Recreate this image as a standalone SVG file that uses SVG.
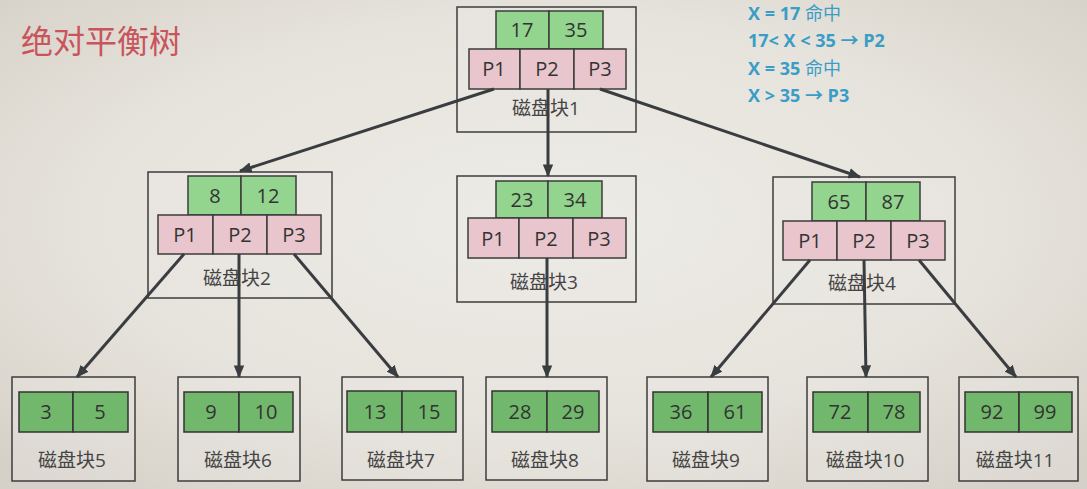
<svg xmlns="http://www.w3.org/2000/svg" width="1087" height="489" viewBox="0 0 1087 489">
<defs>
<radialGradient id="bg" cx="50%" cy="45%" r="70%">
<stop offset="0" stop-color="#eeece7"/>
<stop offset="0.6" stop-color="#e6e3dc"/>
<stop offset="1" stop-color="#d6d1c8"/>
</radialGradient>
<marker id="arr" viewBox="0 0 12 10" refX="11" refY="5" markerWidth="4.2" markerHeight="3.6" orient="auto" markerUnits="strokeWidth">
<path d="M0,0 L12,5 L0,10 Z" fill="#3a3d40"/>
</marker>
<style>
.outer{fill:#ebe9e4;fill-opacity:0.35;stroke:#3c3c3c;stroke-width:1.5}
.key{fill:#93d48e;stroke:#3c3c3c;stroke-width:1.5}
.leafkey{fill:#72b86c;stroke:#333;stroke-width:1.5}
.ptr{fill:#e9c6cd;stroke:#3c3c3c;stroke-width:1.5}
.t{font-family:"Open Sans","Liberation Sans",sans-serif;font-size:20px;fill:#333;text-anchor:middle}
.lbl{font-family:"Open Sans","Noto Sans CJK SC",sans-serif;font-size:19px;fill:#444;text-anchor:middle}
.note{font-family:"Open Sans","Noto Sans CJK SC",sans-serif;font-size:18px;font-weight:bold;fill:#3a9dc6}
.cn{font-weight:normal}
.conn line{stroke:#3a3d40;stroke-width:3;marker-end:url(#arr)}
</style>
</defs>
<rect width="1087" height="489" fill="url(#bg)"/>
<text x="21" y="53" font-family="'Noto Sans CJK SC',sans-serif" font-size="32" fill="#c9545c">绝对平衡树</text>
<g id="notes">
<text class="note" x="748" y="20">X = 17  <tspan class="cn">命中</tspan></text>
<text class="note" x="748" y="47">17&lt; X &lt; 35  → P2</text>
<text class="note" x="748" y="75">X = 35 <tspan class="cn">命中</tspan></text>
<text class="note" x="748" y="102">X &gt; 35  → P3</text>
</g>
<g id="node1">
<rect class="outer" x="457" y="7" width="179" height="125"/>
<rect class="key" x="496" y="11" width="53" height="38"/><rect class="key" x="549" y="11" width="54" height="38"/>
<rect class="ptr" x="469" y="49" width="51" height="40"/><rect class="ptr" x="520" y="49" width="54" height="40"/><rect class="ptr" x="574" y="49" width="52" height="40"/>
<text class="t" x="522" y="37">17</text><text class="t" x="576" y="37">35</text>
<text class="t" x="494" y="76">P1</text><text class="t" x="547" y="76">P2</text><text class="t" x="600" y="76">P3</text>
<text class="lbl" x="546" y="115">磁盘块1</text>
</g>
<g id="node2">
<rect class="outer" x="148" y="172" width="184" height="126"/>
<rect class="key" x="188" y="176" width="53" height="39"/><rect class="key" x="241" y="176" width="55" height="39"/>
<rect class="ptr" x="158" y="215" width="55" height="39"/><rect class="ptr" x="213" y="215" width="54" height="39"/><rect class="ptr" x="267" y="215" width="54" height="39"/>
<text class="t" x="215" y="203">8</text><text class="t" x="268" y="203">12</text>
<text class="t" x="185" y="242">P1</text><text class="t" x="240" y="242">P2</text><text class="t" x="294" y="242">P3</text>
<text class="lbl" x="237" y="285">磁盘块2</text>
</g>
<g id="node3">
<rect class="outer" x="457" y="176" width="179" height="126"/>
<rect class="key" x="496" y="181" width="52" height="37"/><rect class="key" x="548" y="181" width="54" height="37"/>
<rect class="ptr" x="468" y="218" width="51" height="40"/><rect class="ptr" x="519" y="218" width="54" height="40"/><rect class="ptr" x="573" y="218" width="53" height="40"/>
<text class="t" x="522" y="207">23</text><text class="t" x="575" y="207">34</text>
<text class="t" x="493" y="246">P1</text><text class="t" x="546" y="246">P2</text><text class="t" x="599" y="246">P3</text>
<text class="lbl" x="544" y="289">磁盘块3</text>
</g>
<g id="node4">
<rect class="outer" x="773" y="177" width="182" height="127"/>
<rect class="key" x="812" y="182" width="54" height="39"/><rect class="key" x="866" y="182" width="54" height="39"/>
<rect class="ptr" x="783" y="221" width="54" height="39"/><rect class="ptr" x="837" y="221" width="54" height="39"/><rect class="ptr" x="891" y="221" width="54" height="39"/>
<text class="t" x="839" y="209">65</text><text class="t" x="893" y="209">87</text>
<text class="t" x="810" y="248">P1</text><text class="t" x="864" y="248">P2</text><text class="t" x="918" y="248">P3</text>
<text class="lbl" x="862" y="290">磁盘块4</text>
</g>
<g id="leaf5">
<rect class="outer" x="12" y="377" width="123" height="104"/>
<rect class="leafkey" x="19" y="392" width="54" height="40"/><rect class="leafkey" x="73" y="392" width="55" height="40"/>
<text class="t" x="46" y="419">3</text><text class="t" x="100" y="419">5</text>
<text class="lbl" x="72" y="467">磁盘块5</text>
</g>
<g id="leaf6">
<rect class="outer" x="178" y="377" width="122" height="104"/>
<rect class="leafkey" x="184" y="392" width="55" height="40"/><rect class="leafkey" x="239" y="392" width="54" height="40"/>
<text class="t" x="211" y="419">9</text><text class="t" x="266" y="419">10</text>
<text class="lbl" x="238" y="467">磁盘块6</text>
</g>
<g id="leaf7">
<rect class="outer" x="342" y="377" width="121" height="103"/>
<rect class="leafkey" x="347" y="391" width="55" height="41"/><rect class="leafkey" x="402" y="391" width="54" height="41"/>
<text class="t" x="375" y="419">13</text><text class="t" x="429" y="419">15</text>
<text class="lbl" x="401" y="467">磁盘块7</text>
</g>
<g id="leaf8">
<rect class="outer" x="486" y="377" width="121" height="103"/>
<rect class="leafkey" x="492" y="391" width="55" height="41"/><rect class="leafkey" x="547" y="391" width="52" height="41"/>
<text class="t" x="520" y="419">28</text><text class="t" x="573" y="419">29</text>
<text class="lbl" x="545" y="467">磁盘块8</text>
</g>
<g id="leaf9">
<rect class="outer" x="647" y="377" width="121" height="104"/>
<rect class="leafkey" x="653" y="392" width="55" height="40"/><rect class="leafkey" x="708" y="392" width="54" height="40"/>
<text class="t" x="681" y="419">36</text><text class="t" x="735" y="419">61</text>
<text class="lbl" x="706" y="467">磁盘块9</text>
</g>
<g id="leaf10">
<rect class="outer" x="807" y="377" width="121" height="104"/>
<rect class="leafkey" x="813" y="392" width="55" height="40"/><rect class="leafkey" x="868" y="392" width="52" height="40"/>
<text class="t" x="840" y="419">72</text><text class="t" x="894" y="419">78</text>
<text class="lbl" x="865" y="467">磁盘块10</text>
</g>
<g id="leaf11">
<rect class="outer" x="959" y="377" width="119" height="104"/>
<rect class="leafkey" x="965" y="392" width="54" height="40"/><rect class="leafkey" x="1019" y="392" width="53" height="40"/>
<text class="t" x="992" y="419">92</text><text class="t" x="1045" y="419">99</text>
<text class="lbl" x="1015" y="467">磁盘块11</text>
</g>
<g class="conn" id="connectors">
<line x1="494" y1="89" x2="240" y2="171"/>
<line x1="548" y1="89" x2="548" y2="176"/>
<line x1="600" y1="89" x2="860" y2="177"/>
<line x1="184" y1="254" x2="77" y2="377"/>
<line x1="239" y1="254" x2="239" y2="377"/>
<line x1="294" y1="254" x2="398" y2="377"/>
<line x1="547" y1="258" x2="547" y2="377"/>
<line x1="810" y1="260" x2="711" y2="377"/>
<line x1="864" y1="260" x2="866" y2="377"/>
<line x1="919" y1="260" x2="1016" y2="377"/>
</g>
</svg>
